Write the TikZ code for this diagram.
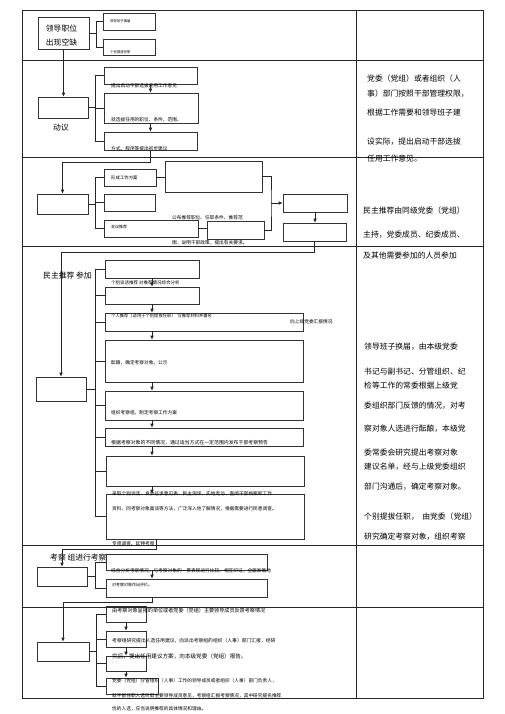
\documentclass[tikz,border=0pt]{standalone}
\usepackage{fontspec}
\setmainfont{Noto Sans CJK SC}
\usepackage{tikz}
\usetikzlibrary{calc, positioning, arrows.meta, fit}

\begin{document}
\begin{tikzpicture}[x=1pt, y=-1pt,
  box/.style={draw=black!80, line width=0.6pt, inner sep=0pt},
  grid/.style={draw=black!85, line width=0.8pt},
  link/.style={draw=black!85, line width=0.7pt},
  arr/.style={link, -{Latex[length=4pt, width=3.6pt]}},
  big/.style={font=\fontsize{7.8}{14}\selectfont, inner sep=0pt},
  note/.style={font=\fontsize{4.7}{5}\selectfont, inner sep=0pt, anchor=west},
  tiny/.style={note, font=\fontsize{3.4}{4}\selectfont},
  side/.style={font=\fontsize{7.8}{9}\selectfont, inner sep=0pt, anchor=west}]
  \useasboundingbox (0,0) rectangle (505,714);
  \fill[white] (0,0) rectangle (505,714);

  % Table frame
  \draw[grid] (22,10) rectangle (483,698);
  \draw[grid] (356,10) -- (356,698);
  \foreach \r in {60,157,246,545,607} \draw[grid] (22,\r) -- (483,\r);

  % Row 1: vacancy
  \node[box, fit={(38,17) (89,49)}] (ld) {};
  \node[big, align=left] (ldt) at (61.5,36) {领导职位\\出现空缺};
  \node[box, fit={(103,13) (155,30)}] (hj) {};
  \node[tiny] (hjt) at (110,21) {领导班子换届};
  \node[box, fit={(103,39) (155,55)}] (gb) {};
  \node[tiny] (gbt) at (110,52) {个别提拔任职};
  \draw[link] (ld.east) -- ++(7,0) |- (hj.west);
  \draw[link] (ld.east) -- ++(7,0) |- (gb.west);

  % Row 2: proposal
  \node[box, fit={(38,97) (88,118)}] (dy) {};
  \node[big] (dyt) at (61,128) {动议};
  \node[box, fit={(104,67) (197,84)}] (a1) {};
  \node[note] (a1t) at (111,86) {提出启动干部选拔任用工作意见};
  \node[box, fit={(104,93) (198,123)}] (a2) {};
  \node[note] (a2t) at (111,120) {就选拔任用的职位、条件、范围、};
  \node[box, fit={(104,132) (197,150)}] (a3) {};
  \node[note] (a3t) at (111,149) {方式、程序等提出初步建议};
  \draw[arr] (ld.south) -- (ld.south |- dy.north);
  \foreach \b in {a1,a2,a3} \draw[link] (dy.east) -- ++(7,0) |- (\b.west);
  \draw[arr] (a1.south) -- (a1.south |- a2.north);
  \draw[arr] (a1.south |- a2.south) -- (a1.south |- a3.north);

  % Row 3: recommendation
  \node[box, fit={(37,194) (88,214)}] (mz) {};
  \node[box, fit={(104,169) (156,186)}] (b1) {};
  \node[note, font=\fontsize{4.4}{5}\selectfont] (b1t) at (111,178) {形成工作方案};
  \node[box, fit={(104,194) (155,211)}] (b2) {};
  \node[box, fit={(104,220) (198,237)}] (b3) {};
  \node[note, font=\fontsize{4}{5}\selectfont] (b3t) at (111,227) {会议推荐};
  \node[box, fit={(165,161) (262,192)}] (bb) {};
  \node[box, fit={(207,221) (264,239)}] (bs) {};
  \node[note] (bt1) at (172,218) {公布推荐职位、任职条件、推荐范};
  \node[note] (bt2) at (172,243) {围，说明干部政策，提出有关要求。};
  \coordinate (bj) at (271,203);
  \node[box, fit={(283,194) (347,212)}] (r1) {};
  \node[box, fit={(283,223) (346,241)}] (r2) {};
  \draw[arr] (a3.south) -- ++(0,12) -| (mz.north);
  \foreach \b in {b1,b2,b3} \draw[link] (mz.east) -- ++(7,0) |- (\b.west);
  \draw[link] (b1.east) -- (b1.east -| bb.west);
  \draw[link] (b3.east) -- (b3.east -| bs.west);
  \draw[link] (bb.east) -| (bj) |- (bs.east);
  \draw[arr] (bj) -- (r1.west);
  \draw[arr] (r1.south) -- (r1.south |- r2.north);

  % Row 4: candidates for inspection
  \node[big, anchor=west] (tjt) at (43,276) {民主推荐 参加};
  \node[box, fit={(36,377) (86,401)}] (kc) {};
  \node[box, fit={(105,260) (199,278)}] (c1) {};
  \node[box, fit={(105,287) (199,304)}] (c2) {};
  \node[box, fit={(105,313) (303,331)}] (c3) {};
  \node[box, fit={(105,340) (303,382)}] (c4) {};
  \node[box, fit={(105,391) (303,420)}] (c5) {};
  \node[box, fit={(105,428) (303,446)}] (c6) {};
  \node[box, fit={(106,456) (304,486)}] (c7) {};
  \node[box, fit={(106,494) (304,539)}] (c8) {};
  \node[note, font=\fontsize{4.5}{5}\selectfont] (c1t) at (111,283) {个别谈话推荐 对推荐情况综合分析};
  \node[note, font=\fontsize{4.3}{5}\selectfont] (c3t) at (111,316) {个人推荐（适用于个别提拔任职）\ \ 写推荐材料并署名};
  \node[note] (c3r) at (290,322) {向上级党委汇报情况};
  \node[note] (c4t) at (111,363) {酝酿，确定考察对象，公示};
  \node[note] (c5t) at (111,413) {组织考察组，制定考察工作方案};
  \node[note, font=\fontsize{4.9}{5}\selectfont] (c6t) at (111,443) {根据考察对象的不同情况，通过适当方式在一定范围内发布干部考察预告};
  \node[note] (c8t) at (112,494) {采取个别谈话、发放征求意见表、民主测评、实地走访、查阅干部档案和工作};
  \node[note] (c8u) at (112,509) {资料、同考察对象面谈等方法，广泛深入地了解情况，根据需要进行民意调查。};
  \node[note] (zxt) at (112,544) {专项调查、延伸考察};
  \coordinate (c8o) at (156,539);
  \draw[arr] (r2.south) -- ++(0,11) -| (kc.north);
  \foreach \b in {c1,c2,c3,c4,c5,c6,c7,c8} \draw[link] (kc.east) -- ++(9,0) |- (\b.west);
  \foreach \u/\v in {c1/c2,c2/c3,c3/c4,c4/c5,c5/c6,c6/c7,c7/c8}
    \draw[arr] (c1.south |- \u.south) -- (c1.south |- \v.north);

  % Row 5: inspection
  \node[big, anchor=west] (kzt) at (50,558) {考察 组进行考察};
  \node[box, fit={(37,567) (87,586)}] (kz) {};
  \node[box, fit={(106,554) (267,570)}] (d1) {};
  \node[box, fit={(106,579) (267,597)}] (d2) {};
  \node[note] (d1t) at (111,571) {综合分析考察情况，与考察对象的一贯表现进行比较、相互印证，全面准确地};
  \node[note, font=\fontsize{4}{5}\selectfont] (d2t) at (112,585) {对考察对象作出评价。};
  \draw[arr] (c8o) -- ++(0,10) -| (kz.north);
  \foreach \b in {d1,d2} \draw[link] (kz.east) -- ++(8,0) |- (\b.west);
  \draw[arr] (c1.south |- d1.south) -- (c1.south |- d2.north);

  % Row 6: discussion and decision
  \node[box, fit={(37,642) (89,661)}] (sh) {};
  \node[box, fit={(106,606) (146,622)}] (e1) {};
  \node[box, fit={(106,631) (146,647)}] (e2) {};
  \node[box, fit={(106,656) (146,671)}] (e3) {};
  \node[box, fit={(106,678) (158,694)}] (e4) {};
  \node[note, font=\fontsize{5.1}{6}\selectfont] (e1t) at (112,611) {由考察对象呈报的单位或者党委（党组）主要领导成员反馈考察情况};
  \node[note, font=\fontsize{4.8}{6}\selectfont] (e2t) at (112,641) {考察组研究提出人选任用建议，向派出考察组的组织（人事）部门汇报，经研};
  \node[note, font=\fontsize{5.6}{6}\selectfont] (e2u) at (112,656) {究后，提出任用建议方案，向本级党委（党组）报告。};
  \node[note] (e4t) at (112,681) {党委（党组）分管组织（人事）工作的领导成员或者组织（人事）部门负责人，};
  \node[note] (e4u) at (112,696) {就干部任职人选听取主要领导成员意见，考察组汇报考察情况，其中研究提名推荐};
  \node[note] (e4v) at (112,709) {优的人选，应当说明推荐的具体情况和理由。};
  \draw[arr] (c1.south |- d2.south) -- ++(0,5) -| (sh.north);
  \foreach \b in {e1,e2,e3,e4} \draw[link] (sh.east) -- ++(7,0) |- (\b.west);
  \foreach \u/\v in {e1/e2,e2/e3,e3/e4}
    \draw[arr] (e1.south |- \u.south) -- (e1.south |- \v.north);

  % Right column notes
  \foreach \y/\t [count=\i] in {79/党委（党组）或者组织（人, 94/事）部门按照干部管理权限，,
      113/根据工作需要和领导班子建, 142/设实际，提出启动干部选拔, 159/任用工作意见。}
    \node[side] (p\i) at (367,\y) {\t};
  \foreach \y/\t [count=\i] in {211/民主推荐由同级党委（党组）, 235/主持，党委成员、纪委成员、,
      256/及其他需要参加的人员参加}
    \node[side] (q\i) at (363,\y) {\t};
  \foreach \y/\t [count=\i] in {347/领导班子换届，由本级党委, 372/书记与副书记、分管组织、纪,
      386/检等工作的常委根据上级党, 406/委组织部门反馈的情况，对考,
      429/察对象人选进行酝酿，本级党, 453/委常委会研究提出考察对象,
      467/建议名单，经与上级党委组织, 487/部门沟通后，确定考察对象。,
      517/个别提拔任职，\ \ 由党委（党组）, 537/研究确定考察对象，组织考察}
    \node[side] (k\i) at (364,\y) {\t};
\end{tikzpicture}
\end{document}
